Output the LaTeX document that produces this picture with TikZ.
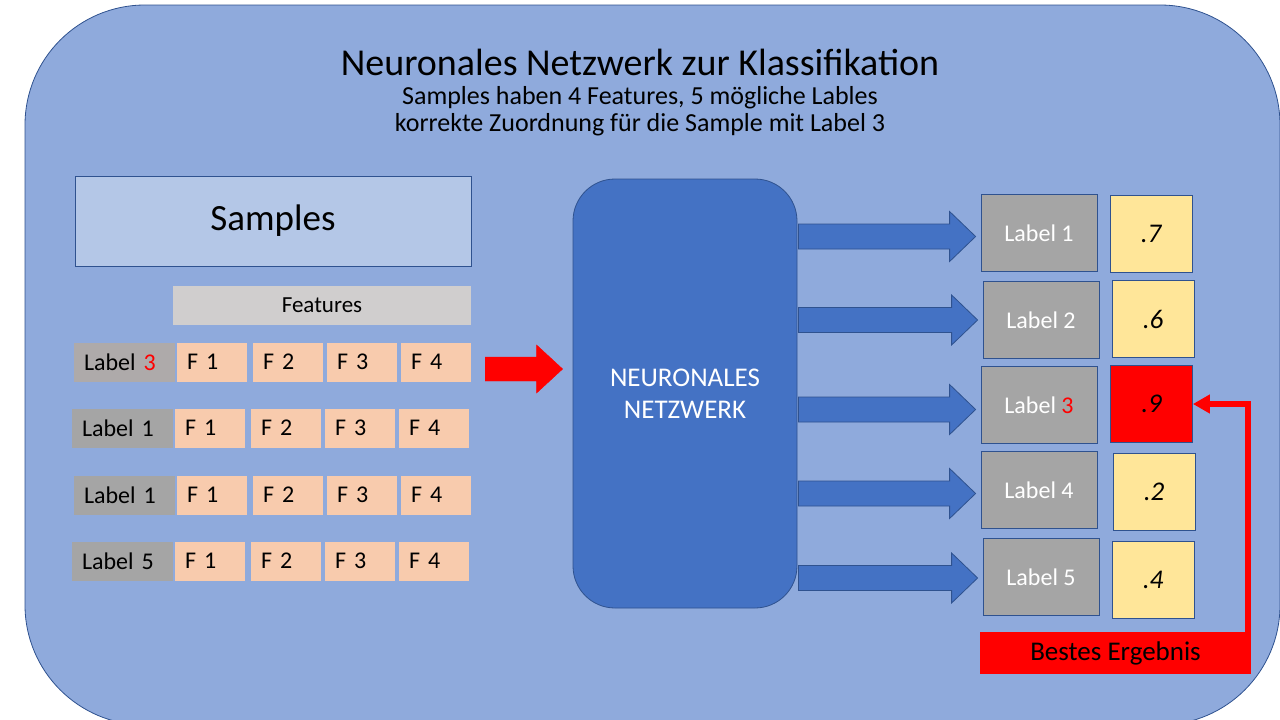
\documentclass[tikz,border=0pt]{standalone}
\usepackage{fontspec}
\setmainfont{Carlito}
\usepackage{xcolor}
\usetikzlibrary{calc}
\usetikzlibrary{arrows.meta}

\definecolor{bgblue}{HTML}{8FAADC}
\definecolor{edgeblue}{HTML}{2F528F}
\definecolor{sampblue}{HTML}{B4C7E7}
\definecolor{netblue}{HTML}{4472C4}
\definecolor{featgray}{HTML}{D0CECE}
\definecolor{labgray}{HTML}{A5A5A5}
\definecolor{labgrayw}{HTML}{AEAAAA}
\definecolor{featorange}{HTML}{F8CBAD}
\definecolor{valyellow}{HTML}{FFE699}

% block arrow: start, tip, half shaft, half head, style
\newcommand{\blockarrow}[5]{%
    \path (#1) coordinate (ba-s) (#2) coordinate (ba-t);
    \filldraw[#5] ($(ba-s)+(0,#3)$) -- ($(ba-t)+(-26,#3)$) -- ($(ba-t)+(-26,#4)$)
        -- (ba-t) -- ($(ba-t)+(-26,-#4)$) -- ($(ba-t)+(-26,-#3)$) -- ($(ba-s)+(0,-#3)$) -- cycle;
}

\begin{document}
\begin{tikzpicture}[x=1pt, y=-1pt,
        box/.style={draw=edgeblue, line width=0.8pt, inner sep=0pt},
        rowlab/.style={inner xsep=10pt, inner ysep=0pt, text width=81pt, align=left,
                minimum height=39pt, font=\fontsize{24}{28}\selectfont},
        featbox/.style={fill=featorange, inner xsep=10pt, inner ysep=0pt, text width=50pt,
                align=left, minimum height=39pt, font=\fontsize{24}{28}\selectfont},
        outlab/.style={box, fill=labgray, text=white, minimum width=116pt, minimum height=77pt,
                font=\fontsize{24}{28}\selectfont},
        valbox/.style={box, minimum width=82pt, minimum height=77pt,
                font=\fontsize{27}{30}\selectfont\itshape}]
    \useasboundingbox (0,0) rectangle (1280,720);
    \clip (0,0) rectangle (1280,720);

    % Background panel
    \filldraw[fill=bgblue, draw=edgeblue, line width=0.8pt, rounded corners=120pt]
        (25,5) rectangle (1280,725);

    % Heading
    \node (title) at (640,62) {\fontsize{38}{44}\selectfont Neuronales Netzwerk zur Klassifikation};
    \node (sub1) at (640,98) {\fontsize{26}{30}\selectfont Samples haben 4 Features, 5 mögliche Lables};
    \node (sub2) at (640,125) {\fontsize{26}{30}\selectfont korrekte Zuordnung für die Sample mit Label 3};

    % Samples and features
    \node[box, fill=sampblue, minimum width=396pt, minimum height=90pt,
        font=\fontsize{37}{42}\selectfont] (samples) at (273,221) {Samples};
    \node[fill=featgray, minimum width=298pt, minimum height=39pt, inner sep=0pt,
        font=\fontsize{23}{28}\selectfont] (features) at (322,305.5) {Features};

    \foreach \r/\y/\dx/\num/\lfill in {1/362/0/\textcolor{red}{3}/labgrayw, 2/428/-2/1/labgray,
            3/495/0/1/labgray, 4/561/-2/5/labgray}
        {
            \node[rowlab, fill=\lfill] (row\r) at (124.5+\dx,\y) {Label \num};
            \foreach \f/\fx in {1/212, 2/288, 3/362, 4/436}
                \node[featbox] (f\r\f) at (\fx+\dx,\y) {F \f};
        }

    % Network
    \node[box, fill=netblue, rounded corners=42pt, minimum width=224pt, minimum height=429pt,
        text=white, align=center, font=\fontsize{27}{32}\selectfont] (nn) at (685,393.5)
        {NEURONALES\\NETZWERK};

    % Input arrow
    \blockarrow{$(f14.east)+(14,7)$}{$(nn.west |- f14.east)+(-10,7)$}{12}{24}{fill=red, draw=red}

    % Output labels and values
    \foreach \i/\x/\y/\txt in {1/1039/233/1, 2/1041/320/2, 3/1039/405/\textcolor{red}{3},
            4/1039/490/4, 5/1041/577/5}
        \node[outlab] (lab\i) at (\x,\y) {Label \txt};

    \foreach \i/\x/\y/\v/\vfill in {1/1151/233.5/7/valyellow, 2/1153/319/6/valyellow,
            3/1151.5/404/9/red, 4/1154/491.5/2/valyellow, 5/1153/579.5/4/valyellow}
        \node[valbox, fill=\vfill] (val\i) at (\x,\y) {.\v};

    % Output arrows
    \foreach \i/\dy in {1/3.5, 2/0, 3/4.5, 4/3.5, 5/1}
        {
            \blockarrow{$(nn.east |- lab\i.west)+(1,\dy)$}{$(lab\i.west)+(-5,\dy)$}{12.5}{25}
                {fill=netblue, draw=edgeblue, line width=0.8pt}
        }

    % Best result
    \node[fill=red, minimum width=271pt, minimum height=42pt, inner sep=0pt,
        font=\fontsize{27}{30}\selectfont] (best) at (1115.5,653) {Bestes Ergebnis};
    \draw[red, line width=6pt, -{Triangle[width=18pt, length=17pt]}]
        ($(best.north east)+(-3,0)$) |- (val3.east);

\end{tikzpicture}
\end{document}
